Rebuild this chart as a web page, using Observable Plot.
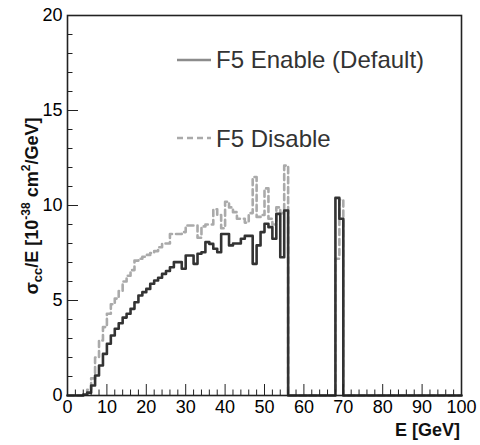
<!DOCTYPE html>
<html><head><meta charset="utf-8">
<script src="https://cdn.jsdelivr.net/npm/d3@7"></script>
<script src="https://cdn.jsdelivr.net/npm/@observablehq/plot@0.6"></script>
<style>
body{margin:0;background:#fff}
#chart svg{font-family:"Liberation Sans",Arial,Helvetica,sans-serif}
</style>
</head><body><div id="chart"></div>
<script>
// Bin lower edges (1 GeV bins from 0 to 100 GeV)
const binStart = d3.range(0, 100);
// F5 Enable (Default) — solid histogram, sigma_cc/E per bin
const enableValues = [
  0,0,0,0,0.05,0.15,0.53,1.05,1.58,2.19,
  2.72,3.16,3.51,3.8,4.1,4.3,4.56,4.91,5.26,5.44,
  5.61,5.88,6.05,6.2,6.4,6.55,6.75,7.02,7.02,6.67,
  7.37,7.37,6.93,7.46,7.54,8.07,7.98,7.72,7.54,8.5,
  8.5,7.9,8.0,8.0,8.25,8.4,8.4,6.93,7.9,8.6,
  9.04,8.86,8.25,9.56,7.28,9.74,0,0,0,0,
  0,0,0,0,0,0,0,0,10.4,9.3,
  0,0,0,0,0,0,0,0,0,0,
  0,0,0,0,0,0,0,0,0,0,
  0,0,0,0,0,0,0,0,0,0
];
// F5 Disable — dashed histogram
const disableValues = [
  0,0,0,0,0.05,0.3,0.9,2.0,2.9,3.6,
  4.3,4.8,5.1,5.5,6.0,6.3,6.6,7.1,7.2,7.3,
  7.4,7.5,7.6,7.8,8.0,8.0,8.5,8.5,8.5,8.6,
  8.95,8.95,8.95,8.3,8.9,9.0,9.0,9.8,9.5,8.8,
  10.2,9.9,9.65,9.3,9.3,9.1,9.6,11.5,9.4,9.5,
  10.9,9.3,9.0,9.9,9.6,12.1,0,0,0,0,
  0,0,0,0,0,0,0,0,7.2,10.3,
  0,0,0,0,0,0,0,0,0,0,
  0,0,0,0,0,0,0,0,0,0,
  0,0,0,0,0,0,0,0,0,0
];
const seriesNames = ["F5 Enable (Default)", "F5 Disable"];
const xMajorTicks = [0,10,20,30,40,50,60,70,80,90,100];
const xMinorTicks = [2,4,6,8,12,14,16,18,22,24,26,28,32,34,36,38,42,44,46,48,52,54,56,58,62,64,66,68,72,74,76,78,82,84,86,88,92,94,96,98];
const yMajorTicks = [0,5,10,15,20];
const yMinorTicks = [1,2,3,4,6,7,8,9,11,12,13,14,16,17,18,19];
const xLabel = "E [GeV]";

function stepPoints(vals) {
  const pts = binStart.map((x, i) => ({x, y: vals[i]}));
  pts.push({x: 100, y: vals[vals.length - 1]});
  return pts;
}

const W = 480, H = 445;
const chart = Plot.plot({
  width: W, height: H,
  marginLeft: 67, marginRight: 19, marginTop: 15, marginBottom: 50,
  style: {fontFamily: "'Liberation Sans', Arial, Helvetica, sans-serif", fontSize: "18px", color: "#000", background: "#fff"},
  x: {domain: [0, 100]},
  y: {domain: [0, 20]},
  marks: [
    Plot.line(stepPoints(disableValues), {x: "x", y: "y", curve: "step-after", stroke: "#aaaaaa", strokeWidth: 2.6, strokeDasharray: "6,4"}),
    Plot.line(stepPoints(enableValues), {x: "x", y: "y", curve: "step-after", stroke: "#333", strokeWidth: 2.6}),
    Plot.axisX({ticks: xMajorTicks, tickSize: -11, tickFormat: () => "", label: null, stroke: "#222"}),
    Plot.axisX({ticks: xMinorTicks, tickSize: -5.5, tickFormat: () => "", label: null, stroke: "#222"}),
    Plot.axisX({ticks: xMajorTicks, tickSize: 0, tickPadding: 5, label: null, fontSize: 18}),
    Plot.axisY({ticks: yMajorTicks, tickSize: -11, tickFormat: () => "", label: null, stroke: "#222"}),
    Plot.axisY({ticks: yMinorTicks, tickSize: -5.5, tickFormat: () => "", label: null, stroke: "#222"}),
    Plot.axisY({ticks: yMajorTicks, tickSize: 0, tickPadding: 5, label: null, fontSize: 18}),
    Plot.frame({stroke: "#222", strokeWidth: 1.6})
  ]
});
document.getElementById("chart").appendChild(chart);

const svg = d3.select(chart);
// y-axis title with sub/superscripts
const yt = svg.append("text")
  .attr("transform", "translate(38,206) rotate(-90)")
  .attr("text-anchor", "middle")
  .attr("font-size", 18).attr("font-weight", "bold").attr("fill", "#111");
yt.append("tspan").text("σ");
yt.append("tspan").attr("font-size", 13).attr("dy", 4).text("cc");
yt.append("tspan").attr("dy", -4).text("/E [10");
yt.append("tspan").attr("font-size", 12).attr("dy", -8).text("-38");
yt.append("tspan").attr("dy", 8).text(" cm");
yt.append("tspan").attr("font-size", 12).attr("dy", -8).text("2");
yt.append("tspan").attr("dy", 8).text("/GeV]");

// x-axis title
svg.append("text").attr("x", 460).attr("y", 436).attr("text-anchor", "end")
  .attr("font-size", 18).attr("font-weight", "bold").attr("fill", "#111").text(xLabel);

// legend
const leg = svg.append("g").attr("text-anchor", "start");
leg.append("line").attr("x1", 177).attr("x2", 211).attr("y1", 60).attr("y2", 60)
  .attr("stroke", "#8c8c8c").attr("stroke-width", 2.6);
leg.append("text").attr("x", 216).attr("y", 68).attr("text-anchor", "start").attr("font-size", 24).attr("fill", "#333").text(seriesNames[0]);
leg.append("line").attr("x1", 177).attr("x2", 211).attr("y1", 138).attr("y2", 138)
  .attr("stroke", "#aaaaaa").attr("stroke-width", 2.6).attr("stroke-dasharray", "6,4");
leg.append("text").attr("x", 216).attr("y", 147).attr("text-anchor", "start").attr("font-size", 24).attr("fill", "#333").text(seriesNames[1]);
</script>
</body></html>
